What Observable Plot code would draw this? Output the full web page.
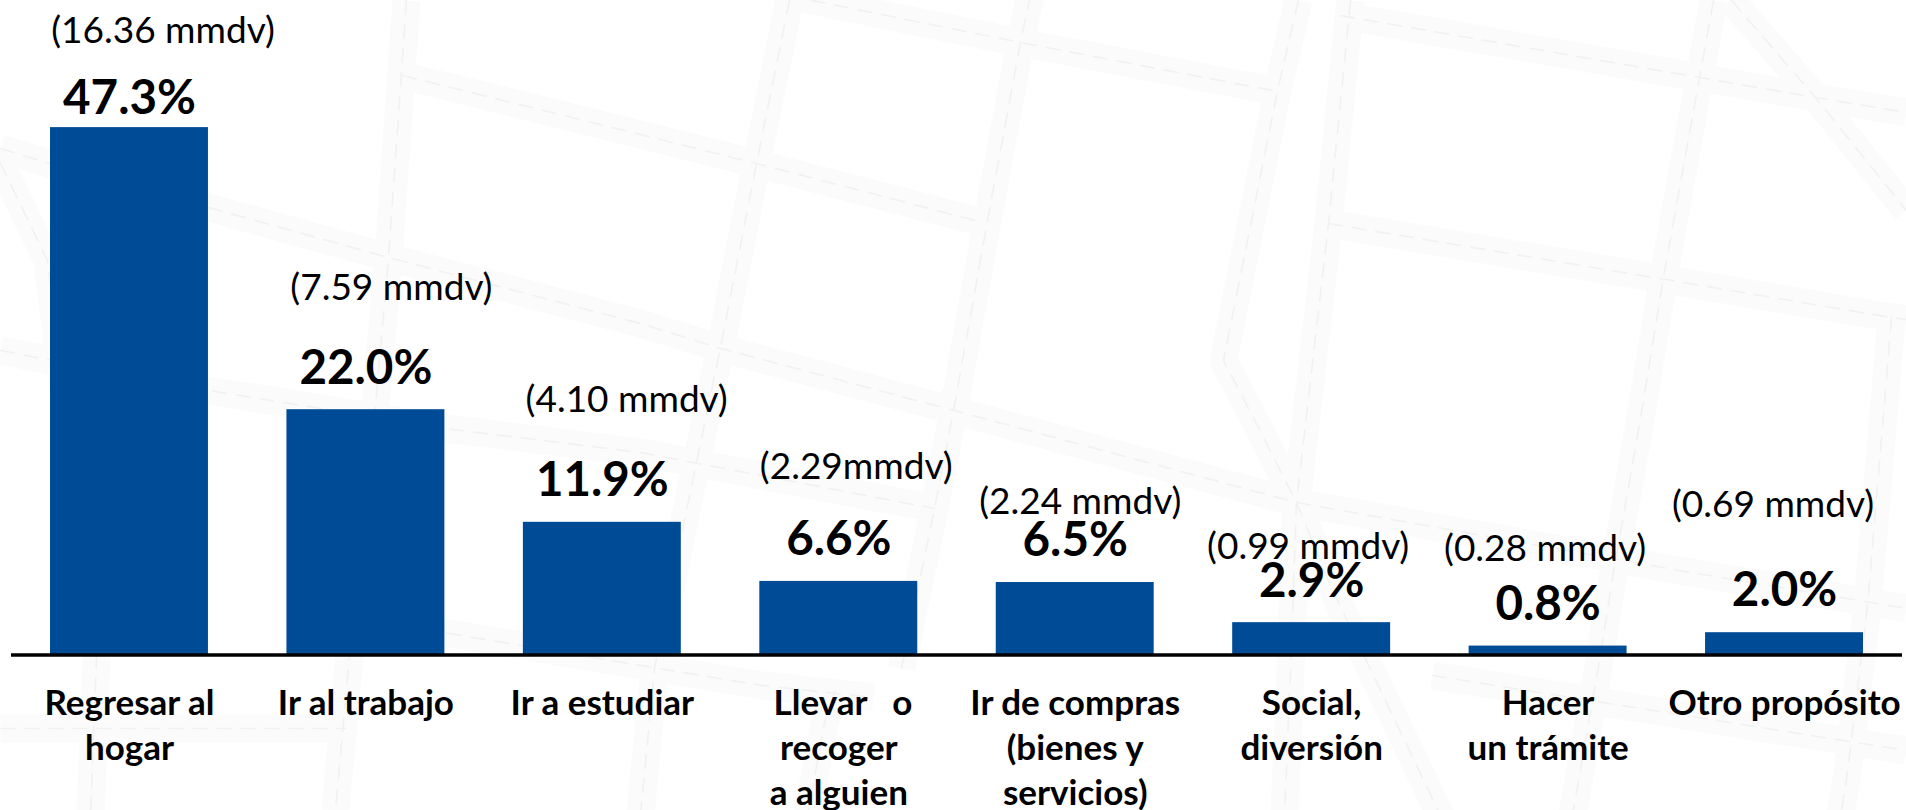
<!DOCTYPE html>
<html lang="es">
<head>
<meta charset="utf-8">
<title>Viajes por propósito</title>
<script src="https://cdn.jsdelivr.net/npm/d3@7"></script>
<script src="https://cdn.jsdelivr.net/npm/@observablehq/plot@0.6"></script>
<style>
html,body{margin:0;padding:0;background:#fff;overflow:hidden}
#stage{position:relative;width:1906px;height:810px}
#stage>svg{position:absolute;left:0;top:0;display:block}
</style>
</head>
<body>
<div id="stage"></div>
<script>
// Chart data
const categories = ["Regresar al\nhogar","Ir al trabajo","Ir a estudiar"," Llevar   o\nrecoger\na alguien","Ir de compras\n(bienes y\nservicios)","Social,\ndiversión","Hacer\nun trámite","Otro propósito"];
const shares = [47.3,22.0,11.9,6.6,6.5,2.9,0.8,2.0];
const trips = ["(16.36 mmdv)","(7.59 mmdv)","(4.10 mmdv)","(2.29mmdv)","(2.24 mmdv)","(0.99 mmdv)","(0.28 mmdv)","(0.69 mmdv)"];

// Label placement (px relative to the bar top / bar centre)
const shareLift = [14,26,26,26,27,26,26,27];
const tripLift = [85,110,110,102,69,64,85,116];
const tripShift = [33.5,25.5,24.3,17.4,5,-3.5,-3,-11.5];

// Decorative street map behind the chart (picture coordinates)
const streetA = [[406,0],[388,257],[375,405],[349,656],[335,810]];
const streetB = [[0,148],[49,163],[208,207],[388,257],[640,323],[717,347],[946,408],[1296,502],[1679,570],[1906,608]];
const streetC = [[402,75],[640,134],[756,163],[975,220]];
const streetD = [[787,-5],[1020,42],[1272,90]];
const streetE = [[1030,-5],[1020,42],[987,220],[954,405],[934,508],[901,668]];
const streetF = [[789,0],[756,163],[720,347],[687,505],[654,668],[640,815]];
const streetG = [[835,690],[824,722],[807,815]];
const streetI = [[0,350],[208,390],[445,428],[640,452],[934,508]];
const streetJ = [[352,618],[449,633],[592,657],[762,685],[873,697]];
const streetK = [[0,163],[47,260],[96,658],[90,815]];
const streetL = [[0,728],[345,728]];
const streetM = [[1298,0],[1277,90],[1223,360],[1244,400],[1296,502],[1330,585],[1440,815]];
const streetN = [[1350,0],[1328,223],[1296,502],[1290,670],[1284,815]];
const streetO = [[1340,15],[1699,77],[1815,97],[1906,112]];
const streetP = [[1328,223],[1659,278],[1891,317],[1906,319]];
const streetQ = [[1891,317],[1883,415],[1867,605],[1847,772],[1840,815]];
const streetR = [[1713,0],[1699,77],[1663,277],[1641,412],[1613,572],[1597,672],[1572,815]];
const streetS = [[1731,0],[1815,97],[1906,210]];
const streetT = [[1432,675],[1906,750]];
const streets = [streetA,streetB,streetC,streetD,streetE,streetF,streetG,streetI,streetJ,streetK,streetL,streetM,streetN,streetO,streetP,streetQ,streetR,streetS,streetT];

const rows = categories.map((c,i)=>({c,v:shares[i],t:trips[i],pl:shareLift[i],tl:tripLift[i],ts:tripShift[i]}));
const font = "Lato, 'Open Sans', sans-serif";

const map = Plot.plot({
  width:1906,height:810,margin:0,
  style:{background:"#fff"},
  x:{domain:[0,1906],range:[0,1906],axis:null},
  y:{domain:[0,810],range:[0,810],axis:null},
  marks:[
    ...streets.map(s=>Plot.line(s,{x:d=>d[0],y:d=>d[1],stroke:"#fbfbfb",strokeWidth:28,curve:"linear",strokeLinejoin:"miter",strokeLinecap:"butt"})),
    ...streets.map(s=>Plot.line(s,{x:d=>d[0],y:d=>d[1],stroke:"#f1f1f1",strokeWidth:1.6,strokeDasharray:"14 10",curve:"linear"}))
  ]
});

const chart = Plot.plot({
  width:1906,height:810,
  marginTop:0,marginBottom:155.5,marginLeft:11,marginRight:4,
  style:{background:"transparent",fontFamily:font,color:"#000"},
  x:{type:"band",domain:categories,range:[50,1863],paddingInner:0.332,paddingOuter:0,align:0.5,round:false,label:null},
  y:{domain:[0,58.7],axis:null},
  marks:[
    Plot.barY(rows,{x:"c",y:"v",fill:"#004b95"}),
    Plot.ruleY([0],{stroke:"#000",strokeWidth:3.4}),
    Plot.axisX({tickSize:0,tickPadding:27.5,fontSize:35,fontWeight:700,fill:"#000",lineHeight:1.295,label:null,fontFamily:font}),
    ...rows.map(d=>Plot.text([d],{x:"c",y:"v",text:r=>r.v.toFixed(1)+"%",dy:-d.pl,lineAnchor:"bottom",fontSize:47.5,fontWeight:700,fill:"#000",fontFamily:font})),
    ...rows.map(d=>Plot.text([d],{x:"c",y:"v",text:"t",dy:-d.tl,dx:d.ts,lineAnchor:"bottom",fontSize:37,fontWeight:400,fill:"#000",fontFamily:font}))
  ]
});

document.getElementById("stage").append(map,chart);
</script>
</body>
</html>
